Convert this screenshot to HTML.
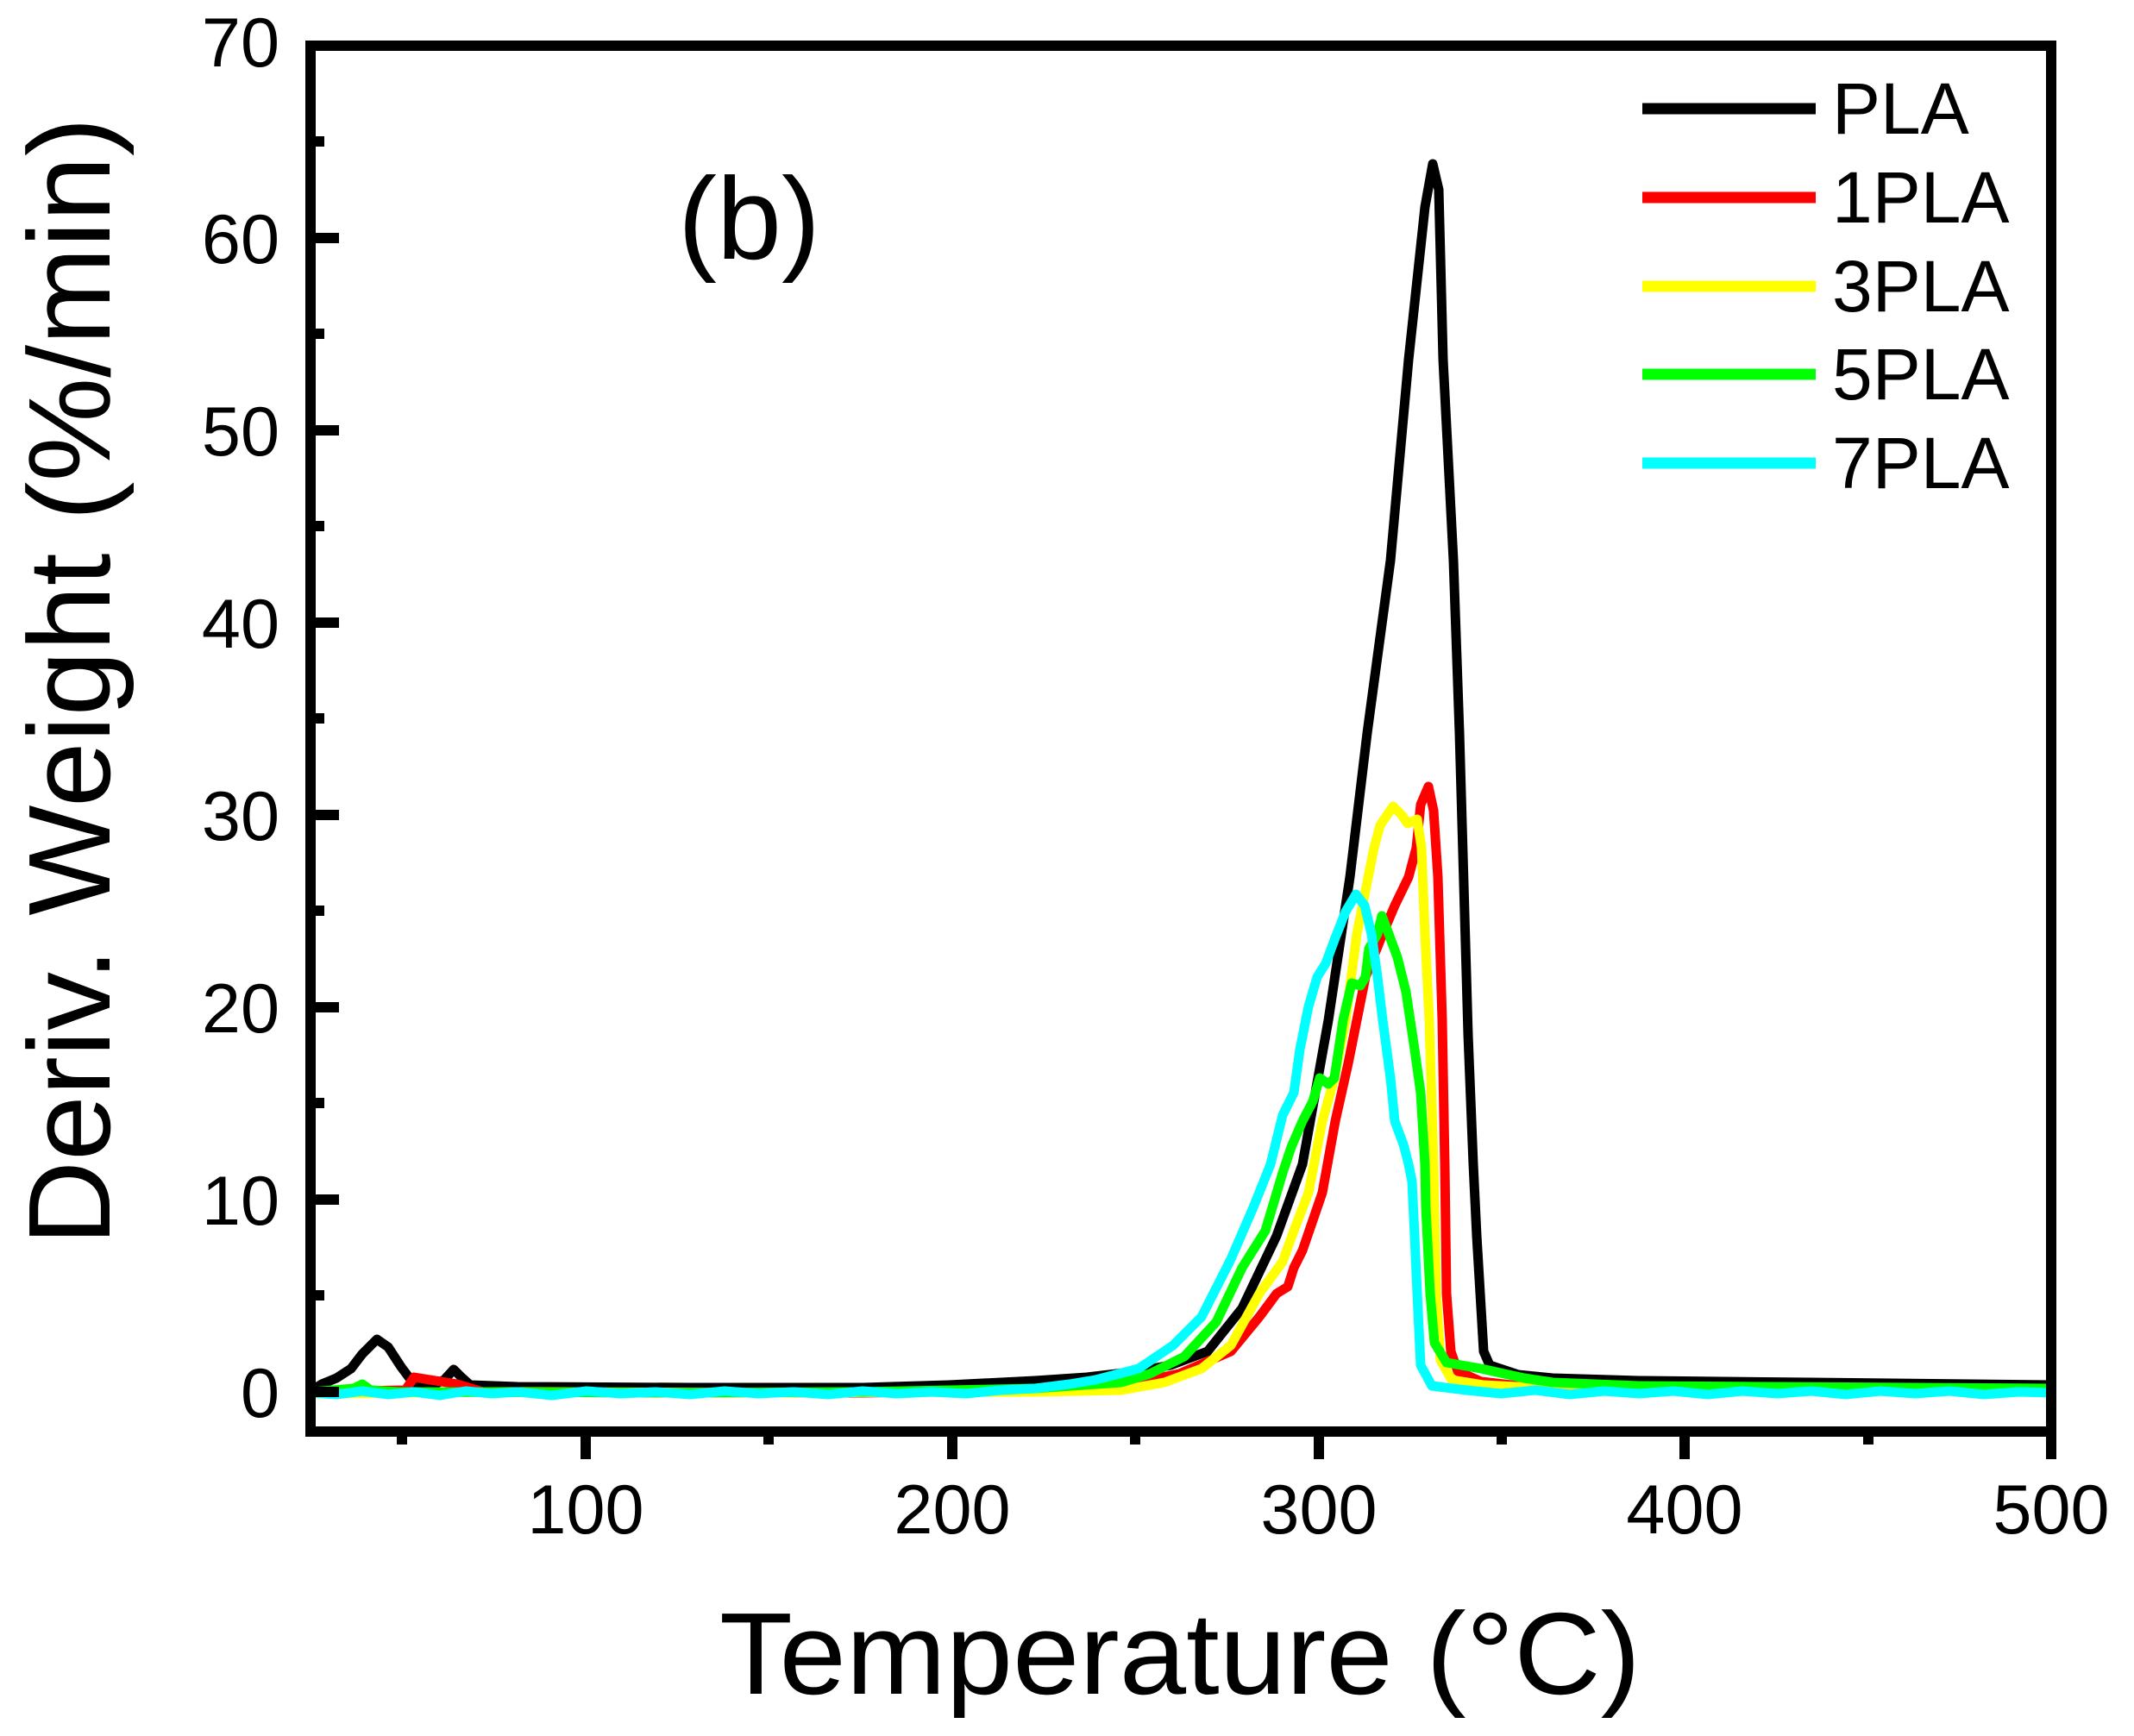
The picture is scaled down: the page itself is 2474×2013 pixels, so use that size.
<!DOCTYPE html>
<html><head><meta charset="utf-8"><style>
html,body{margin:0;padding:0;background:#fff;}
svg{display:block;}
text{font-family:"Liberation Sans",Arial,sans-serif;fill:#000;}
</style></head><body>
<svg width="2474" height="2013" viewBox="0 0 2474 2013" xmlns="http://www.w3.org/2000/svg">
<rect width="2474" height="2013" fill="#fff"/>
<g fill="none" stroke-linejoin="round" stroke-linecap="round" stroke-width="11">
<!-- black PLA -->
<polyline stroke="#000" points="362,1612 373,1605 390,1598 407,1587 420,1570 437,1553 450,1562 465,1585 480,1605 500,1607 515,1600 526,1588 535,1597 545,1606 600,1608 800,1609 1000,1609 1100,1606 1200,1601 1260,1597 1320,1590 1357,1583 1400,1567 1440,1517 1480,1433 1510,1350 1540,1183 1565,1017 1585,850 1612,650 1633,417 1652,240 1661,190 1668,220 1673,417 1685,650 1692,850 1702,1200 1708,1350 1712,1433 1720,1567 1727,1583 1760,1594 1800,1598 1900,1601 2100,1603 2378,1606"/>
<!-- red 1PLA -->
<polyline stroke="#f00" points="362,1614 470,1612 480,1597 530,1605 560,1614 800,1615 1000,1615 1200,1612 1300,1607 1367,1593 1427,1567 1460,1527 1480,1500 1493,1492 1500,1470 1510,1450 1533,1383 1548,1300 1563,1233 1573,1183 1583,1133 1603,1083 1617,1050 1633,1017 1642,983 1647,933 1656,912 1662,940 1667,1017 1672,1183 1675,1350 1677,1500 1682,1567 1690,1590 1717,1602 1760,1607 1900,1609 2378,1610"/>
<!-- yellow 3PLA -->
<polyline stroke="#ff0" points="362,1616 600,1614 900,1615 1100,1614 1200,1614 1300,1612 1350,1603 1393,1587 1427,1560 1460,1500 1487,1463 1500,1427 1517,1383 1533,1300 1547,1250 1560,1183 1573,1083 1583,1033 1593,983 1600,957 1615,935 1625,945 1632,955 1643,950 1648,983 1652,1083 1657,1183 1662,1350 1665,1500 1670,1577 1683,1600 1720,1606 1800,1610 2378,1612"/>
<!-- green 5PLA -->
<polyline stroke="#0f0" points="362,1614 410,1610 420,1605 430,1612 460,1614 800,1615 1000,1614 1100,1612 1200,1610 1300,1603 1333,1593 1373,1573 1410,1533 1440,1470 1467,1427 1487,1360 1497,1330 1510,1300 1522,1277 1530,1250 1540,1257 1547,1250 1557,1183 1567,1140 1577,1143 1583,1133 1587,1100 1597,1083 1602,1062 1610,1083 1620,1110 1630,1150 1640,1217 1647,1267 1652,1350 1653,1400 1658,1500 1663,1557 1677,1580 1717,1587 1767,1598 1800,1603 1900,1607 2378,1610"/>
<!-- cyan 7PLA -->
<polyline stroke="#0ff" points="362,1615 390,1617 420,1613 450,1617 480,1614 510,1618 540,1613 570,1616 600,1614 640,1618 680,1613 720,1616 760,1614 800,1617 840,1613 880,1616 920,1614 960,1617 1000,1613 1040,1616 1080,1614 1120,1616 1160,1612 1200,1610 1240,1605 1270,1600 1297,1593 1320,1587 1360,1560 1393,1527 1427,1460 1453,1400 1473,1350 1487,1293 1500,1267 1507,1217 1517,1167 1527,1133 1537,1117 1547,1090 1560,1057 1572,1037 1582,1050 1590,1083 1597,1133 1603,1183 1612,1250 1617,1300 1627,1327 1633,1350 1637,1370 1640,1433 1643,1500 1647,1583 1660,1607 1700,1612 1740,1616 1780,1612 1820,1617 1860,1613 1900,1616 1940,1613 1980,1617 2020,1613 2060,1616 2100,1613 2140,1617 2180,1613 2220,1616 2260,1613 2300,1617 2340,1614 2378,1615"/>
</g>
<!-- axes frame -->
<rect x="360" y="53" width="2018" height="1607" fill="none" stroke="#000" stroke-width="12"/>
<g stroke="#000" stroke-width="12">
<!-- y major ticks inward -->
<line x1="366" y1="1614" x2="393" y2="1614"/>
<line x1="366" y1="1391" x2="393" y2="1391"/>
<line x1="366" y1="1168" x2="393" y2="1168"/>
<line x1="366" y1="945" x2="393" y2="945"/>
<line x1="366" y1="722" x2="393" y2="722"/>
<line x1="366" y1="499" x2="393" y2="499"/>
<line x1="366" y1="276" x2="393" y2="276"/>
<!-- y minor -->
<line x1="366" y1="1502" x2="376" y2="1502"/>
<line x1="366" y1="1279" x2="376" y2="1279"/>
<line x1="366" y1="1056" x2="376" y2="1056"/>
<line x1="366" y1="833" x2="376" y2="833"/>
<line x1="366" y1="610" x2="376" y2="610"/>
<line x1="366" y1="387" x2="376" y2="387"/>
<line x1="366" y1="164" x2="376" y2="164"/>
<!-- x major ticks outward -->
<line x1="679" y1="1660" x2="679" y2="1692"/>
<line x1="1104" y1="1660" x2="1104" y2="1692"/>
<line x1="1529" y1="1660" x2="1529" y2="1692"/>
<line x1="1953" y1="1660" x2="1953" y2="1692"/>
<line x1="2378" y1="1660" x2="2378" y2="1692"/>
<!-- x minor -->
<line x1="466" y1="1660" x2="466" y2="1675"/>
<line x1="891" y1="1660" x2="891" y2="1675"/>
<line x1="1316" y1="1660" x2="1316" y2="1675"/>
<line x1="1741" y1="1660" x2="1741" y2="1675"/>
<line x1="2166" y1="1660" x2="2166" y2="1675"/>
</g>
<!-- y labels -->
<g font-size="81" text-anchor="end">
<text x="324" y="1643">0</text>
<text x="324" y="1420">10</text>
<text x="324" y="1197">20</text>
<text x="324" y="974">30</text>
<text x="324" y="751">40</text>
<text x="324" y="528">50</text>
<text x="324" y="305">60</text>
<text x="324" y="77">70</text>
</g>
<g font-size="81" text-anchor="middle">
<text x="679" y="1778">100</text>
<text x="1104" y="1778">200</text>
<text x="1529" y="1778">300</text>
<text x="1953" y="1778">400</text>
<text x="2378" y="1778">500</text>
</g>
<text x="1368" y="1964" font-size="135" text-anchor="middle" textLength="1068" lengthAdjust="spacingAndGlyphs">Temperature (°C)</text>
<text transform="translate(127,790) rotate(-90)" font-size="135" text-anchor="middle" textLength="1308" lengthAdjust="spacingAndGlyphs">Deriv. Weight (%/min)</text>
<text x="786" y="300" font-size="135">(b)</text>
<!-- legend -->
<g stroke-width="13">
<line x1="1904" y1="126" x2="2105" y2="126" stroke="#000"/>
<line x1="1904" y1="229" x2="2105" y2="229" stroke="#f00"/>
<line x1="1904" y1="332" x2="2105" y2="332" stroke="#ff0"/>
<line x1="1904" y1="434" x2="2105" y2="434" stroke="#0f0"/>
<line x1="1904" y1="537" x2="2105" y2="537" stroke="#0ff"/>
</g>
<g font-size="84">
<text x="2124" y="155">PLA</text>
<text x="2124" y="258">1PLA</text>
<text x="2124" y="361">3PLA</text>
<text x="2124" y="463">5PLA</text>
<text x="2124" y="566">7PLA</text>
</g>
</svg>
</body></html>
